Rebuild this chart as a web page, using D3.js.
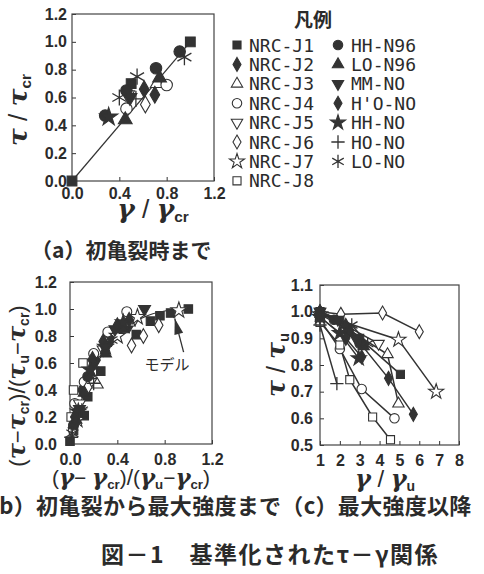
<!DOCTYPE html>
<html>
<head>
<meta charset="utf-8">
<title>基準化されたτ-γ関係</title>
<script src="https://cdn.jsdelivr.net/npm/d3@7"></script>
<style type="text/css">
	body { margin: 0; background: #fff; }
	svg text { fill: #2b2b2b; }
	.tick text {
		font-family: "Liberation Sans", Arial, sans-serif;
		font-weight: bold;
		font-size: 16px;
	}
	.tick line { stroke: #333; stroke-width: 1; }
	.box { fill: none; stroke: #444; stroke-width: 1.2; }
	.leg { font-family: "DejaVu Sans Mono", monospace; font-size: 18px; }
	.jp { font-family: "Noto Sans CJK JP", sans-serif; font-weight: bold; }
	.gk { font-family: "DejaVu Serif", serif; font-style: italic; font-weight: bold; }
	.sl { font-family: "Liberation Sans", sans-serif; }
	.pa { font-family: "Liberation Sans", sans-serif; }
	.sb { font-family: "Liberation Sans", sans-serif; font-weight: bold; }
</style>
</head>
<body>
<script type="text/javascript">
	// series names, same order in every panel
	var seriesNames = ["NRC-J1", "NRC-J2", "NRC-J3", "NRC-J4", "NRC-J5", "NRC-J6", "NRC-J7", "NRC-J8",
		"HH-N96", "LO-N96", "MM-NO", "H'O-NO", "HH-NO", "HO-NO", "LO-NO"];

	// (a) up to first crack : [gamma/gamma_cr, tau/tau_cr]
	var aPoints = [
		[[0, 0], [0.5, 0.70], [1.0, 1.0]],
		[[0.61, 0.66]],
		[[0.72, 0.70]],
		[[0.46, 0.52], [0.80, 0.69]],
		[[0.47, 0.62]],
		[[0.62, 0.55]],
		[],
		[],
		[[0.28, 0.47], [0.46, 0.65], [0.71, 0.81], [0.91, 0.93]],
		[[0.45, 0.44], [0.74, 0.74]],
		[[0.49, 0.60]],
		[[0.70, 0.62]],
		[[0.31, 0.46]],
		[[0.54, 0.59]],
		[[0.40, 0.60], [0.55, 0.75], [0.95, 0.89]]
	];
	var aModel = [[0, 0], [1, 1]];

	// (b) first crack to max strength
	var bPoints = [
		[[0, 0.02], [0.03, 0.10], [0.12, 0.21], [0.15, 0.35], [0.26, 0.54], [0.56, 0.81], [0.68, 0.91], [0.76, 0.95], [0.85, 0.97], [1.0, 1.0]],
		[[0.02, 0.12], [0.10, 0.40], [0.22, 0.62], [0.35, 0.78], [0.50, 0.88]],
		[[0.05, 0.22], [0.18, 0.51], [0.23, 0.44], [0.50, 0.90]],
		[[0.04, 0.30], [0.12, 0.46], [0.20, 0.67], [0.32, 0.83], [0.48, 0.98]],
		[[0.08, 0.30], [0.28, 0.70], [0.55, 0.93]],
		[[0.02, 0.10], [0.15, 0.42], [0.52, 0.73], [0.62, 0.80], [0.75, 0.88]],
		[[0.06, 0.18], [0.40, 0.80], [0.57, 0.94], [0.92, 0.99]],
		[[0.01, 0.20], [0.03, 0.40], [0.11, 0.60]],
		[[0.03, 0.14], [0.15, 0.50], [0.30, 0.73], [0.42, 0.86]],
		[[0.05, 0.18], [0.12, 0.38], [0.30, 0.67], [0.45, 0.85]],
		[[0.08, 0.26], [0.20, 0.60], [0.38, 0.85], [0.63, 1.0]],
		[[0.04, 0.20], [0.19, 0.63], [0.28, 0.76], [0.40, 0.88], [0.50, 0.92]],
		[[0.07, 0.24], [0.17, 0.55], [0.30, 0.72], [0.45, 0.90]],
		[[0.01, 0.05], [0.08, 0.20], [0.20, 0.45]],
		[[0.02, 0.08], [0.10, 0.25], [0.35, 0.77]]
	];
	var bModel = [[0, 0], [0.05, 0.18], [0.1, 0.33], [0.15, 0.45], [0.2, 0.55], [0.3, 0.70], [0.4, 0.80],
		[0.5, 0.88], [0.6, 0.93], [0.7, 0.965], [0.8, 0.985], [0.9, 0.997], [1.0, 1.0]];
	var bArrow = [[0.96, 0.68], [0.885, 0.93]];
	var bLabel = [0.82, 0.545];

	// (c) after max strength : [gamma/gamma_u, tau/tau_u]
	var cLines = [
		[[1, 1], [2.0, 0.97], [3.0, 0.90], [5.05, 0.765]],
		[[1, 0.99], [2.5, 0.93], [4.45, 0.75], [5.7, 0.615]],
		[[1, 1], [4.4, 0.84], [4.95, 0.655]],
		[[1, 0.97], [2.0, 0.86], [3.1, 0.71], [4.75, 0.60]],
		[[1, 1], [3.95, 0.88]],
		[[1, 1], [2.05, 0.99], [4.15, 0.995], [6.0, 0.925]],
		[[1, 0.99], [4.95, 0.895], [6.85, 0.70]],
		[[1, 0.96], [2.0, 0.875], [2.5, 0.745], [3.65, 0.605], [4.55, 0.52]],
		[[1, 1], [1.7, 0.97], [2.4, 0.93], [3.0, 0.88]],
		[[1, 1], [2.3, 0.95], [3.2, 0.87]],
		[[1, 1], [1.9, 0.97], [2.8, 0.90]],
		[[1, 0.98], [2.3, 0.90], [3.1, 0.83]],
		[[1, 0.98], [2.0, 0.92], [2.95, 0.825]],
		[[1, 0.95], [1.85, 0.73]],
		[[1, 0.99], [2.6, 0.95], [3.4, 0.88]]
	];

	var abTicks = [0, 0.4, 0.8, 1.2],
		abTicksY = [0, 0.2, 0.4, 0.6, 0.8, 1.0, 1.2],
		cTicksX = [1, 2, 3, 4, 5, 6, 7, 8],
		cTicksY = [0.5, 0.6, 0.7, 0.8, 0.9, 1.0, 1.1];

	// marker look for each series
	var shapes = [
		{s: "sq", f: 1}, {s: "di", f: 1}, {s: "tr", f: 0}, {s: "ci", f: 0},
		{s: "td", f: 0}, {s: "di", f: 0}, {s: "st", f: 0}, {s: "sq", f: 0},
		{s: "ci", f: 1}, {s: "tr", f: 1}, {s: "td", f: 1}, {s: "di", f: 1},
		{s: "st", f: 1}, {s: "pl", f: 0}, {s: "as", f: 0}
	];
	var ink = "#333";

	var svg = d3.select("body").append("svg")
		.attr("width", 484)
		.attr("height", 574);

	function symPath(k, sc) {
		var r = 7 * sc;
		if (k == "pl") return "M" + (-r) + ",0H" + r + "M0," + (-r) + "V" + r;
		if (k == "as") {
			var p = "M0," + (-r) + "V" + r;
			[30, 150].forEach(function (a) {
				var c = Math.cos(a * Math.PI / 180) * r, s = Math.sin(a * Math.PI / 180) * r;
				p += "M" + (-c) + "," + (-s) + "L" + c + "," + s;
			});
			return p;
		}
		var t = {sq: d3.symbolSquare, di: d3.symbolDiamond, tr: d3.symbolTriangle,
			td: d3.symbolTriangle, ci: d3.symbolCircle, st: d3.symbolStar}[k];
		var area = {sq: 72, di: 62, tr: 62, td: 62, ci: 78, st: 78}[k];
		return d3.symbol().type(t).size(area * sc * sc)();
	}

	function marker(g, i, x, y, sc) {
		var m = shapes[i];
		var line = m.s == "pl" || m.s == "as";
		g.append("path")
			.attr("d", symPath(m.s, sc))
			.attr("transform", "translate(" + x + "," + y + ")" + (m.s == "td" ? " rotate(180)" : ""))
			.attr("fill", line ? "none" : (m.f ? ink : "#fff"))
			.attr("stroke", ink)
			.attr("stroke-width", line ? 1.3 : 1.1);
	}

	// text built of pieces: [string, class, subscript?], k scales the sizes
	var baseSize = {gk: 24, sl: 24, pa: 22, sb: 14};
	function mathText(parts, x, y, rot, k) {
		var t = svg.append("text")
			.attr("transform", "translate(" + x + "," + y + ")" + (rot ? " rotate(" + rot + ")" : ""))
			.attr("text-anchor", "middle");
		var down = false;
		parts.forEach(function (p) {
			var ts = t.append("tspan").attr("class", p[1])
				.style("font-size", (baseSize[p[1]] * k) + "px")
				.text(p[0]);
			if (p[2] && !down) { ts.attr("dy", 4 * k); down = true; }
			else if (!p[2] && down) { ts.attr("dy", -4 * k); down = false; }
		});
		return t;
	}

	function panel(left, right, bottom, top, xd, yd, xt, yt, fmtX, padY, padX) {
		var x = d3.scaleLinear().domain(xd).range([left, right]);
		var y = d3.scaleLinear().domain(yd).range([bottom, top]);
		var g = svg.append("g");
		g.append("g")
			.attr("transform", "translate(" + left + ",0)")
			.call(d3.axisLeft(y).tickValues(yt).tickFormat(d3.format(".1f"))
				.tickSizeInner(-4).tickSizeOuter(0).tickPadding(padY))
			.call(function (a) { a.select(".domain").remove(); });
		g.append("g")
			.attr("transform", "translate(0," + bottom + ")")
			.call(d3.axisBottom(x).tickValues(xt).tickFormat(fmtX)
				.tickSizeInner(-4).tickSizeOuter(0).tickPadding(padX))
			.call(function (a) { a.select(".domain").remove(); });
		g.selectAll(".tick text").attr("fill", "#2b2b2b");
		g.append("rect").attr("class", "box")
			.attr("x", left).attr("y", top)
			.attr("width", right - left).attr("height", bottom - top);
		return {g: g, x: x, y: y};
	}

	// ---------- (a) ----------
	var pa = panel(72, 214, 181, 14, [0, 1.2], [0, 1.2], abTicks, abTicksY, d3.format(".1f"), 5, 7);
	pa.g.append("path")
		.attr("d", d3.line().x(function (d) { return pa.x(d[0]); }).y(function (d) { return pa.y(d[1]); })(aModel))
		.attr("fill", "none").attr("stroke", ink).attr("stroke-width", 1.2);
	aPoints.forEach(function (pts, i) {
		pts.forEach(function (d) { marker(pa.g, i, pa.x(d[0]), pa.y(d[1]), 1.15); });
	});
	mathText([["τ", "gk"], [" / ", "sl"], ["τ", "gk"], ["cr", "sb", 1]], 27, 110, -90, 1.1);
	mathText([["γ", "gk"], [" / ", "sl"], ["γ", "gk"], ["cr", "sb", 1]], 153, 218, 0, 1.1);
	svg.append("text").attr("class", "jp")
		.attr("x", 31).attr("y", 258)
		.style("font-size", "21px")
		.text("（a）初亀裂時まで");

	// legend
	svg.append("text").attr("class", "jp")
		.attr("x", 313).attr("y", 27)
		.attr("text-anchor", "middle")
		.style("font-size", "19px")
		.text("凡例");
	seriesNames.forEach(function (n, i) {
		var col = i < 8 ? 0 : 1, row = i < 8 ? i : i - 8;
		var cy = 45 + row * 19.4;
		marker(svg, i, col ? 338 : 237, cy, 0.95);
		svg.append("text").attr("class", "leg")
			.attr("x", col ? 351 : 249).attr("y", cy + 6.5)
			.text(n);
	});

	// ---------- (b) ----------
	var pb = panel(70, 212, 444, 282, [0, 1.2], [0, 1.2], abTicks, abTicksY, d3.format(".1f"), 13, 10);
	pb.g.append("path")
		.attr("d", d3.line().curve(d3.curveMonotoneX)
			.x(function (d) { return pb.x(d[0]); }).y(function (d) { return pb.y(d[1]); })(bModel))
		.attr("fill", "none").attr("stroke", ink).attr("stroke-width", 1.2);
	bPoints.forEach(function (pts, i) {
		pts.forEach(function (d) { marker(pb.g, i, pb.x(d[0]), pb.y(d[1]), 1.0); });
	});
	// arrow to the model curve
	var ax0 = pb.x(bArrow[0][0]), ay0 = pb.y(bArrow[0][1]),
		ax1 = pb.x(bArrow[1][0]), ay1 = pb.y(bArrow[1][1]);
	var ang = Math.atan2(ay1 - ay0, ax1 - ax0);
	pb.g.append("line")
		.attr("x1", ax0).attr("y1", ay0).attr("x2", ax1).attr("y2", ay1)
		.attr("stroke", ink).attr("stroke-width", 1.3);
	pb.g.append("path")
		.attr("d", "M0,0L-16,-4.5L-16,4.5Z")
		.attr("transform", "translate(" + ax1 + "," + ay1 + ") rotate(" + (ang * 180 / Math.PI) + ")")
		.attr("fill", ink);
	pb.g.append("text").attr("class", "jp")
		.attr("x", pb.x(bLabel[0])).attr("y", pb.y(bLabel[1]))
		.attr("text-anchor", "middle")
		.style("font-size", "15px").style("font-weight", "normal")
		.text("モデル");
	mathText([["(", "pa"], ["τ", "gk"], ["−", "pa"], ["τ", "gk"], ["cr", "sb", 1], [")", "pa"], ["/", "sl"],
		["(", "pa"], ["τ", "gk"], ["u", "sb", 1], ["−", "pa"], ["τ", "gk"], ["cr", "sb", 1], [")", "pa"]], 25, 386, -90, 1.0);
	mathText([["(", "pa"], ["γ", "gk"], ["− ", "pa"], ["γ", "gk"], ["cr", "sb", 1], [")", "pa"], ["/", "sl"],
		["(", "pa"], ["γ", "gk"], ["u", "sb", 1], ["−", "pa"], ["γ", "gk"], ["cr", "sb", 1], [")", "pa"]], 131, 485, 0, 0.95);

	// ---------- (c) ----------
	var pc = panel(320, 459, 445, 285, [1, 8], [0.5, 1.1], cTicksX, cTicksY, d3.format("d"), 7, 10);
	var cl = d3.line().x(function (d) { return pc.x(d[0]); }).y(function (d) { return pc.y(d[1]); });
	cLines.forEach(function (pts) {
		pc.g.append("path").attr("d", cl(pts))
			.attr("fill", "none").attr("stroke", ink).attr("stroke-width", 1.5);
	});
	cLines.forEach(function (pts, i) {
		pts.forEach(function (d) { marker(pc.g, i, pc.x(d[0]), pc.y(d[1]), 0.95); });
	});
	mathText([["τ", "gk"], [" / ", "sl"], ["τ", "gk"], ["u", "sb", 1]], 285, 365, -90, 1.05);
	mathText([["γ", "gk"], [" / ", "sl"], ["γ", "gk"], ["u", "sb", 1]], 385, 487, 0, 1.0);

	// captions
	svg.append("text").attr("class", "jp")
		.attr("x", -23).attr("y", 514)
		.style("font-size", "22px")
		.style("letter-spacing", "0.3px")
		.text("（b）初亀裂から最大強度まで（c）最大強度以降");
	svg.append("text").attr("class", "jp")
		.attr("x", 270).attr("y", 563)
		.attr("text-anchor", "middle")
		.style("font-size", "23px")
		.style("letter-spacing", "1.5px")
		.text("図－1　基準化されたτ－γ関係");
</script>
</body>
</html>
